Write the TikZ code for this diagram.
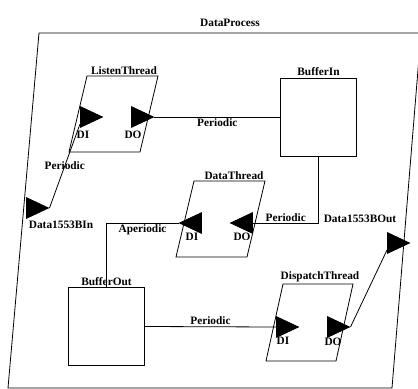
\documentclass[tikz,border=0pt]{standalone}
\usepackage{fontspec}
\setmainfont{Liberation Serif}
\usetikzlibrary{shapes.geometric}

\tikzset{
  port/.style={isosceles triangle, isosceles triangle stretches, fill=black,
    draw=black, minimum width=15.5pt, minimum height=16.5pt, inner sep=0pt},
  portleft/.style={port, shape border rotate=180},
  buf/.style={draw, rectangle, minimum width=57pt, minimum height=58.5pt, inner sep=0pt},
  txt/.style={font=\fontsize{8.5}{9}\selectfont\bfseries, inner sep=1pt},
}

\begin{document}
\begin{tikzpicture}[x=0.75pt,y=-0.75pt,line width=0.6pt]
\useasboundingbox (0,0) rectangle (418,389);

% DataProcess
\draw (39,33) -- (421,33) -- (392,388) -- (8,388) -- cycle;
\node[txt] (dp-name) at (230,23) {DataProcess};
\node[port] (din) at (33,208) {};
\node[port] (dout) at (394,243) {};
\node[txt] (din-name) at (61,225) {Data1553BIn};
\node[txt] (dout-name) at (360,219) {Data1553BOut};

% ListenThread
\draw (87,76) -- (158,76) -- (140,152) -- (69,152) -- cycle;
\node[txt,above] (lt-name) at (124,76) {ListenThread};
\node[port] (lt-di) at (87,117) {};
\node[port] (lt-do) at (138,117) {};
\node[txt] (lt-di-name) at (83,135) {DI};
\node[txt] (lt-do-name) at (133,135) {DO};

% DataThread
\draw (194,181) -- (265,181) -- (247,257) -- (176,257) -- cycle;
\node[txt,above] (dt-name) at (234,181) {DataThread};
\node[portleft] (dt-di) at (195,223) {};
\node[portleft] (dt-do) at (246,223) {};
\node[txt] (dt-di-name) at (192,237) {DI};
\node[txt] (dt-do-name) at (242,237) {DO};

% DispatchThread
\draw (283,284) -- (353,284) -- (336,361) -- (266,361) -- cycle;
\node[txt,above] (dp-thr-name) at (320,284) {DispatchThread};
\node[port] (dp-di) at (283,327) {};
\node[port] (dp-do) at (334,327) {};
\node[txt] (dp-di-name) at (283,341) {DI};
\node[txt] (dp-do-name) at (333,342) {DO};

% buffers
\node[buf] (bin) at (318.5,117) {};
\node[txt,above] (bin-name) at (bin.north) {BufferIn};
\node[buf] (bout) at (106.5,326.5) {};
\node[txt,above] (bout-name) at (bout.north) {BufferOut};

% connections
\draw (lt-do.apex) -- (lt-do.apex -| bin.west) node[txt,midway,below] (c1) {Periodic};
\draw (bin.south) |- (dt-do.east) node[txt,pos=0.75,above] (c2) {Periodic};
\draw (dt-di.apex) -| (bout.north) node[txt,pos=0.25,below] (c3) {Aperiodic};
\draw (bout.east) -- (dp-di.west) node[txt,midway,above] (c4) {Periodic};
\draw (dp-do.apex) -- (dout.south west);
\draw (lt-di.south west) -- (din.apex) node[txt,midway] (c5) {Periodic};
\end{tikzpicture}
\end{document}
